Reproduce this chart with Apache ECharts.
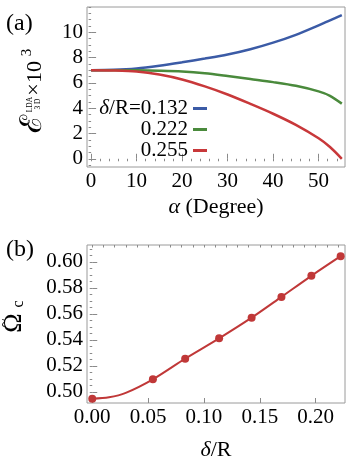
<!DOCTYPE html>
<html><head><meta charset="utf-8">
<script src="https://cdn.jsdelivr.net/npm/echarts@6/dist/echarts.min.js"></script>
<style>html,body{margin:0;padding:0;background:#fff}#c{width:354px;height:462px}</style>
</head><body><div id="c"></div>
<script>
// ---- Panel (a) data ----
const alpha = [0, 5, 10, 15, 20, 25, 30, 35, 40, 45, 50, 52.5, 55.1];
const e132 = [7.0, 7.03, 7.14, 7.36, 7.63, 7.92, 8.24, 8.66, 9.18, 9.8, 10.55, 10.95, 11.36];
const e222 = [7.0, 7.0, 6.99, 6.96, 6.9, 6.76, 6.54, 6.3, 6.06, 5.77, 5.33, 4.98, 4.36];
const e255 = [7.0, 6.98, 6.9, 6.66, 6.27, 5.72, 5.08, 4.34, 3.56, 2.68, 1.62, 0.93, 0.0];
const namesA = ['δ/R=0.132', '0.222', '0.255'];
const xTicksA = [0, 10, 20, 30, 40, 50];
const yTicksA = [0, 2, 4, 6, 8, 10];
// ---- Panel (b) data ----
const deltaR = [0, 0.0543, 0.0832, 0.1136, 0.1427, 0.1694, 0.1962, 0.2224];
const omegaC = [0.4947, 0.5096, 0.5255, 0.5411, 0.5570, 0.5730, 0.5892, 0.6043];
const fitDelta = [0, 0.015, 0.03, 0.0543, 0.0832, 0.1136, 0.1427, 0.1694, 0.1962, 0.2224];
const fitOmega = [0.4947, 0.4958, 0.4992, 0.5096, 0.5255, 0.5411, 0.5570, 0.5730, 0.5892, 0.6043];
const xTicksB = [0, 0.05, 0.10, 0.15, 0.20];
const yTicksB = [0.50, 0.52, 0.54, 0.56, 0.58, 0.60];

const FONT = '"Liberation Serif", "DejaVu Serif", serif';
const TICK = '#8a8a8a';
const colA = ['#3b5ba6', '#4a8a3c', '#c8383a'];
const colB = '#c03838';

function minors(min, max, step) {
  const out = [];
  const s = Math.ceil(min / step - 1e-9);
  for (let k = s; k * step <= max + 1e-9; k++) out.push(+(k * step).toFixed(6));
  return out;
}
function axes(gi, min, max, major, minorStep, fmt, name, nameGap) {
  const base = {
    type: 'value', gridIndex: gi, min: min, max: max,
    axisLine: {show: false}, splitLine: {show: false}
  };
  const maj = Object.assign({}, base, {
    axisTick: {show: true, inside: true, length: 5, customValues: major, lineStyle: {color: TICK, width: 1}},
    axisLabel: {show: true, customValues: major, formatter: fmt, color: '#000', fontSize: 21, fontFamily: FONT, margin: 4},
  });
  if (name) {
    maj.name = name; maj.nameLocation = 'middle'; maj.nameGap = nameGap;
    maj.nameTextStyle = {color: '#000', fontSize: 22, fontFamily: FONT, rich: {i: {fontStyle: 'italic', fontSize: 22, fontFamily: FONT, color: '#000'}}};
  }
  const mn = Object.assign({}, base, {
    axisTick: {show: true, inside: true, length: 2.5, customValues: minors(min, max, minorStep), lineStyle: {color: TICK, width: 1}},
    axisLabel: {show: false}
  });
  return [maj, mn];
}

const xa = axes(0, -0.9, 55.8, xTicksA, 2, v => String(v), '{i|α} (Degree)', 29);
const ya = axes(0, -0.65, 12.0, yTicksA, 0.5, v => String(v), null, 0);
const xb = axes(1, -0.0047, 0.2263, xTicksB, 0.01, v => v.toFixed(2), '{i|δ}/R', 36);
const yb = axes(1, 0.4914, 0.6129, yTicksB, 0.005, v => v.toFixed(2), null, 0);

function zipA(ys) { return alpha.map((a, i) => [a, ys[i]]); }

function txt(t, u, v, size, extra) {
  return {type: 'text', style: Object.assign({text: t, x: u, y: v, font: size + 'px ' + FONT, fill: '#000', align: 'center', verticalAlign: 'middle'}, extra || {})};
}

function lineSeries(name, xi, data, color, width) {
  return {name: name, type: 'line', xAxisIndex: xi, yAxisIndex: xi, data: data, smooth: 0.3,
    showSymbol: false, lineStyle: {color: color, width: width}, itemStyle: {color: color}};
}

const option = {
  animation: false,
  backgroundColor: '#fff',
  grid: [
    {left: 87, top: 7, width: 258, height: 160, show: true, borderColor: '#9a9a9a', borderWidth: 1, backgroundColor: 'transparent'},
    {left: 87, top: 245, width: 258, height: 158, show: true, borderColor: '#9a9a9a', borderWidth: 1, backgroundColor: 'transparent'}
  ],
  xAxis: [xa[0], xa[1], xb[0], xb[1]],
  yAxis: [ya[0], ya[1], yb[0], yb[1]],
  legend: {
    orient: 'vertical', left: 88, top: 98, padding: 0, itemGap: 0, align: 'right',
    itemWidth: 14, itemHeight: 3, icon: 'rect',
    data: namesA,
    formatter: n => n.charAt(0) === 'δ' ? '{i|δ}' + n.slice(1) : n,
    textStyle: {width: 100, color: '#000', fontSize: 21, fontFamily: FONT, lineHeight: 19,
      rich: {i: {fontStyle: 'italic', fontSize: 21, fontFamily: FONT, color: '#000', lineHeight: 19}}}
  },
  series: [
    lineSeries(namesA[0], 0, zipA(e132), colA[0], 2.5),
    lineSeries(namesA[1], 0, zipA(e222), colA[1], 2.5),
    lineSeries(namesA[2], 0, zipA(e255), colA[2], 2.5),
    lineSeries('fit', 2, fitDelta.map((d, i) => [d, fitOmega[i]]), colB, 2),
    {name: 'data', type: 'scatter', xAxisIndex: 2, yAxisIndex: 2, data: deltaR.map((d, i) => [d, omegaC[i]]), symbolSize: 8, itemStyle: {color: colB, opacity: 1}}
  ],
  graphic: [
    {type: 'text', left: 6, top: 12, style: {text: '(a)', font: '24px ' + FONT, fill: '#000'}},
    {type: 'text', left: 6, top: 238, style: {text: '(b)', font: '24px ' + FONT, fill: '#000'}},
    {type: 'group', x: 42, y: 133, rotation: Math.PI / 2, children: [
      txt('ℰ', 9, -9, 30),
      txt('LDA', 28.5, -11.5, 7.5),
      txt('3 D', 29, -3.5, 7.5),
      txt('×', 43.5, -8, 22),
      txt('10', 61, -7, 22),
      txt('3', 80.5, -15, 15)
    ]},
    {type: 'group', x: 22, y: 338, rotation: Math.PI / 2, children: [
      txt('Ω', 15, -8, 26),
      txt('~', 15, -17, 16),
      txt('c', 34, -3, 16)
    ]}
  ]
};
const chart = echarts.init(document.getElementById('c'), null, {renderer: 'canvas'});
chart.setOption(option);
</script>
</body></html>
